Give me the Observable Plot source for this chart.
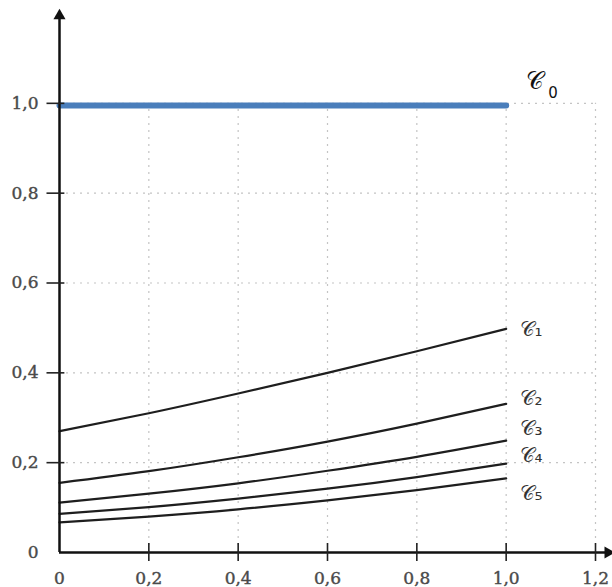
<!DOCTYPE html>
<html>
<head>
<meta charset="utf-8">
<script src="https://cdn.jsdelivr.net/npm/d3@7"></script>
<script src="https://cdn.jsdelivr.net/npm/@observablehq/plot@0.6"></script>
<style>
  html, body { margin: 0; padding: 0; background: #fff; }
  #chart svg { display: block; }
</style>
</head>
<body>
<div id="chart"></div>
<script>
// Data
const xs = [0, 0.2, 0.4, 0.6, 0.8, 1.0];
const c1 = [0.270, 0.310, 0.354, 0.400, 0.448, 0.498];
const c2 = [0.155, 0.181, 0.212, 0.247, 0.287, 0.331];
const c3 = [0.111, 0.131, 0.154, 0.182, 0.213, 0.249];
const c4 = [0.086, 0.101, 0.120, 0.142, 0.168, 0.198];
const c5 = [0.067, 0.080, 0.096, 0.116, 0.139, 0.165];
const c0Value = 0.995;
const c0Range = [0, 1.0];

const xTicks = [0, 0.2, 0.4, 0.6, 0.8, 1.0, 1.2];
const yTicks = [0, 0.2, 0.4, 0.6, 0.8, 1.0];
const xGrid = [0.2, 0.4, 0.6, 0.8, 1.0, 1.2];
const yGrid = [0.2, 0.4, 0.6, 0.8, 1.0];

const curveNames = ["𝒞₁", "𝒞₂", "𝒞₃", "𝒞₄", "𝒞₅"];
const curveSeries = [c1, c2, c3, c4, c5];
const labelY = [0.497, 0.343, 0.276, 0.216, 0.131];
const c0Label = {name: "𝒞", sub: "0", x: 1.045, y: 1.05};

const curves = curveSeries.flatMap((s, i) => xs.map((x, j) => ({name: curveNames[i], x, y: s[j]})));
const labels = curveNames.map((name, i) => ({name, x: 1.03, y: labelY[i]}));
const c0 = c0Range.map(x => ({x, y: c0Value}));

const fmt = d => (d === 0 ? "0" : d.toFixed(1).replace(".", ","));

const chart = Plot.plot({
  width: 612,
  height: 587,
  marginLeft: 59,
  marginRight: 17,
  marginTop: 13,
  marginBottom: 35,
  x: {domain: [0, 1.2], axis: null},
  y: {domain: [0, 1.2], axis: null},
  style: {fontFamily: "DejaVu Serif", background: "#fff"},
  marks: [
    Plot.ruleX(xGrid, {x: d => d, y1: 0, y2: 1.0, stroke: "#c4c4c4", strokeWidth: 1.2, strokeDasharray: "2,5"}),
    Plot.ruleY(yGrid, {y: d => d, x1: 0, x2: 1.2, stroke: "#c4c4c4", strokeWidth: 1.2, strokeDasharray: "2,5"}),
    Plot.line(c0, {x: "x", y: "y", stroke: "#4a7ebb", strokeWidth: 6}),
    Plot.line(curves, {x: "x", y: "y", z: "name", curve: "natural", stroke: "#1e1e1e", strokeWidth: 2.2}),
    // axes
    Plot.ruleY([0], {x1: 0, x2: 1.225, stroke: "#111", strokeWidth: 2.5}),
    Plot.ruleX([0], {y1: 0, y2: 1.19, stroke: "#111", strokeWidth: 2.5}),
    Plot.dot([{x: 1.228, y: 0}], {x: "x", y: "y", symbol: "triangle", r: 4.5, fill: "#111", stroke: "none", rotate: 90}),
    Plot.dot([{x: 0, y: 1.195}], {x: "x", y: "y", symbol: "triangle", r: 4.5, fill: "#111", stroke: "none"}),
    // tick marks crossing the axes
    Plot.ruleX(xTicks.slice(1), {x: d => d, y1: -0.02, y2: 0.02, stroke: "#222", strokeWidth: 1.6}),
    Plot.ruleY(yTicks.slice(1), {y: d => d, x1: -0.028, x2: 0.012, stroke: "#222", strokeWidth: 1.6}),
    // tick labels
    Plot.text(xTicks, {x: d => d, y: 0, text: d => fmt(d), dy: 26, fontSize: 17, fill: "#4a4a4a", stroke: "#4a4a4a", strokeWidth: 0.4}),
    Plot.text(yTicks, {x: 0, y: d => d, text: d => fmt(d), dx: -21, textAnchor: "end", fontSize: 17, fill: "#4a4a4a", stroke: "#4a4a4a", strokeWidth: 0.4}),
    // curve labels
    Plot.text(labels, {x: "x", y: "y", text: "name", textAnchor: "start", fontSize: 20, fill: "#333", fontFamily: "DejaVu Sans"}),
    Plot.text([c0Label], {x: "x", y: "y", text: "name", textAnchor: "start", fontSize: 24, fill: "#111", fontFamily: "DejaVu Sans"}),
    Plot.text([c0Label], {x: "x", y: "y", text: "sub", textAnchor: "start", dx: 22, dy: 12, fontSize: 15, fill: "#111", fontFamily: "DejaVu Sans"})
  ]
});
document.getElementById("chart").appendChild(chart);
</script>
</body>
</html>
